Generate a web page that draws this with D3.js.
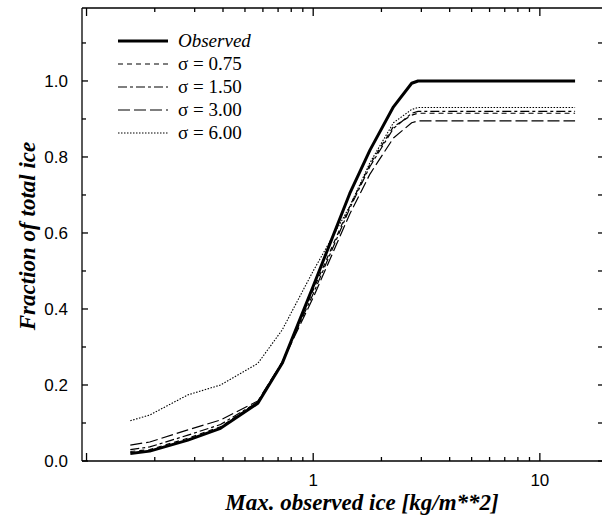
<!DOCTYPE html>
<html>
<head>
<meta charset="utf-8">
<script src="https://cdn.jsdelivr.net/npm/d3@7"></script>
<style>
  html, body { margin: 0; padding: 0; background: #fff; }
  svg { display: block; }
  .tick-label { font-family: "Liberation Sans", Arial, sans-serif; font-size: 17px; fill: #000; }
  .axis-title { font-family: "Liberation Serif", "Times New Roman", serif; font-size: 23px; font-weight: bold; font-style: italic; fill: #000; }
  .legend-text { font-family: "Liberation Serif", "Times New Roman", serif; font-size: 19px; fill: #000; }
</style>
</head>
<body>
<div id="chart"></div>
<script>
'use strict';

// x positions (kg/m**2) where the curves were read
const xValues = [0.156, 0.19, 0.28, 0.39, 0.57, 0.73, 1.0, 1.45, 1.78, 2.26, 2.72, 2.9, 14.3];

const observed = [0.020, 0.026, 0.055, 0.086, 0.152, 0.257, 0.46, 0.704, 0.818, 0.932, 0.994, 1.0, 1.0];
const sigma075 = [0.025, 0.030, 0.060, 0.090, 0.155, 0.260, 0.45, 0.670, 0.780, 0.880, 0.910, 0.915, 0.915];
const sigma150 = [0.030, 0.037, 0.068, 0.096, 0.155, 0.260, 0.44, 0.665, 0.775, 0.875, 0.915, 0.920, 0.920];
const sigma300 = [0.042, 0.050, 0.082, 0.108, 0.158, 0.260, 0.43, 0.650, 0.755, 0.850, 0.890, 0.895, 0.895];
const sigma600 = [0.106, 0.121, 0.174, 0.200, 0.257, 0.345, 0.50, 0.670, 0.785, 0.890, 0.925, 0.930, 0.930];

const seriesNames = ['Observed', 'σ = 0.75', 'σ = 1.50', 'σ = 3.00', 'σ = 6.00'];

const yTickLabels = ['0.0', '0.2', '0.4', '0.6', '0.8', '1.0'];
const xTickLabels = ['1', '10'];

const W = 604, H = 519;
const plotL = 82, plotR = 602, plotT = 8, plotB = 461;

const x = d3.scaleLog().domain([0.0955, 18.8]).range([plotL, plotR]);
const y = d3.scaleLinear().domain([0, 1.192]).range([plotB, plotT]);

const svg = d3.select('#chart').append('svg')
  .attr('width', W).attr('height', H);

// frame: left, bottom, top lines (right side only has ticks)
const frame = svg.append('g').attr('stroke', '#000').attr('stroke-width', 1.3).attr('fill', 'none');
frame.append('line').attr('x1', plotL).attr('x2', plotL).attr('y1', plotT).attr('y2', plotB);
frame.append('line').attr('x1', plotL).attr('x2', plotR).attr('y1', plotB).attr('y2', plotB);
frame.append('line').attr('x1', plotL).attr('x2', plotR).attr('y1', plotT).attr('y2', plotT);

// y ticks every 0.1, major every 0.2
const yTicks = d3.range(0, 12).map(i => i / 10);
yTicks.forEach((v, i) => {
  const major = i % 2 === 0;
  frame.append('line')
    .attr('x1', plotL).attr('x2', plotL + (major ? 6 : 4))
    .attr('y1', y(v)).attr('y2', y(v));
  frame.append('line')
    .attr('x1', plotR).attr('x2', plotR - 4)
    .attr('y1', y(v)).attr('y2', y(v));
});

svg.selectAll('text.ylab')
  .data(yTickLabels)
  .join('text')
  .attr('class', 'tick-label ylab')
  .attr('x', 68)
  .attr('y', d => y(+d) + 6)
  .attr('text-anchor', 'end')
  .text(d => d);

// x ticks (log)
const xTicks = [];
[0.1, 1, 10].forEach(dec => {
  for (let k = 1; k <= 9; k++) {
    const v = dec * k;
    if (v >= x.domain()[0] && v <= x.domain()[1]) xTicks.push({ v, major: k === 1 });
  }
});
xTicks.forEach(t => {
  const len = t.major ? 8 : 4;
  frame.append('line')
    .attr('x1', x(t.v)).attr('x2', x(t.v))
    .attr('y1', plotB).attr('y2', plotB - len);
  frame.append('line')
    .attr('x1', x(t.v)).attr('x2', x(t.v))
    .attr('y1', plotT).attr('y2', plotT + len);
});

svg.selectAll('text.xlab')
  .data(xTickLabels)
  .join('text')
  .attr('class', 'tick-label xlab')
  .attr('x', d => x(+d))
  .attr('y', 486)
  .attr('text-anchor', 'middle')
  .text(d => d);

// axis titles
svg.append('text')
  .attr('class', 'axis-title')
  .attr('x', 362).attr('y', 510)
  .attr('text-anchor', 'middle')
  .text('Max. observed ice [kg/m**2]');

svg.append('text')
  .attr('class', 'axis-title')
  .attr('transform', 'translate(35,236) rotate(-90)')
  .attr('text-anchor', 'middle')
  .text('Fraction of total ice');

// curves
const styles = [
  { dash: null, width: 3 },
  { dash: '5,4', width: 1.2 },
  { dash: '9,3,3,3', width: 1.2 },
  { dash: '12,4', width: 1.2 },
  { dash: '1.5,1.5', width: 1.1 },
];
const allSeries = [observed, sigma075, sigma150, sigma300, sigma600];

const line = d3.line()
  .x(d => x(d[0]))
  .y(d => y(d[1]));

// draw sigma curves first, observed on top
[4, 3, 2, 1, 0].forEach(i => {
  svg.append('path')
    .datum(xValues.map((xv, j) => [xv, allSeries[i][j]]))
    .attr('d', line)
    .attr('fill', 'none')
    .attr('stroke', '#000')
    .attr('stroke-width', styles[i].width)
    .attr('stroke-linejoin', 'round')
    .attr('stroke-dasharray', styles[i].dash);
});

// legend
const legendY = [41, 64, 87, 110, 133];
const legend = svg.append('g');
seriesNames.forEach((name, i) => {
  legend.append('line')
    .attr('x1', 118).attr('x2', 168)
    .attr('y1', legendY[i]).attr('y2', legendY[i])
    .attr('stroke', '#000')
    .attr('stroke-width', styles[i].width)
    .attr('stroke-dasharray', styles[i].dash);
  legend.append('text')
    .attr('class', 'legend-text')
    .attr('x', 178)
    .attr('y', legendY[i] + 6)
    .style('font-style', i === 0 ? 'italic' : 'normal')
    .text(name);
});
</script>
</body>
</html>
